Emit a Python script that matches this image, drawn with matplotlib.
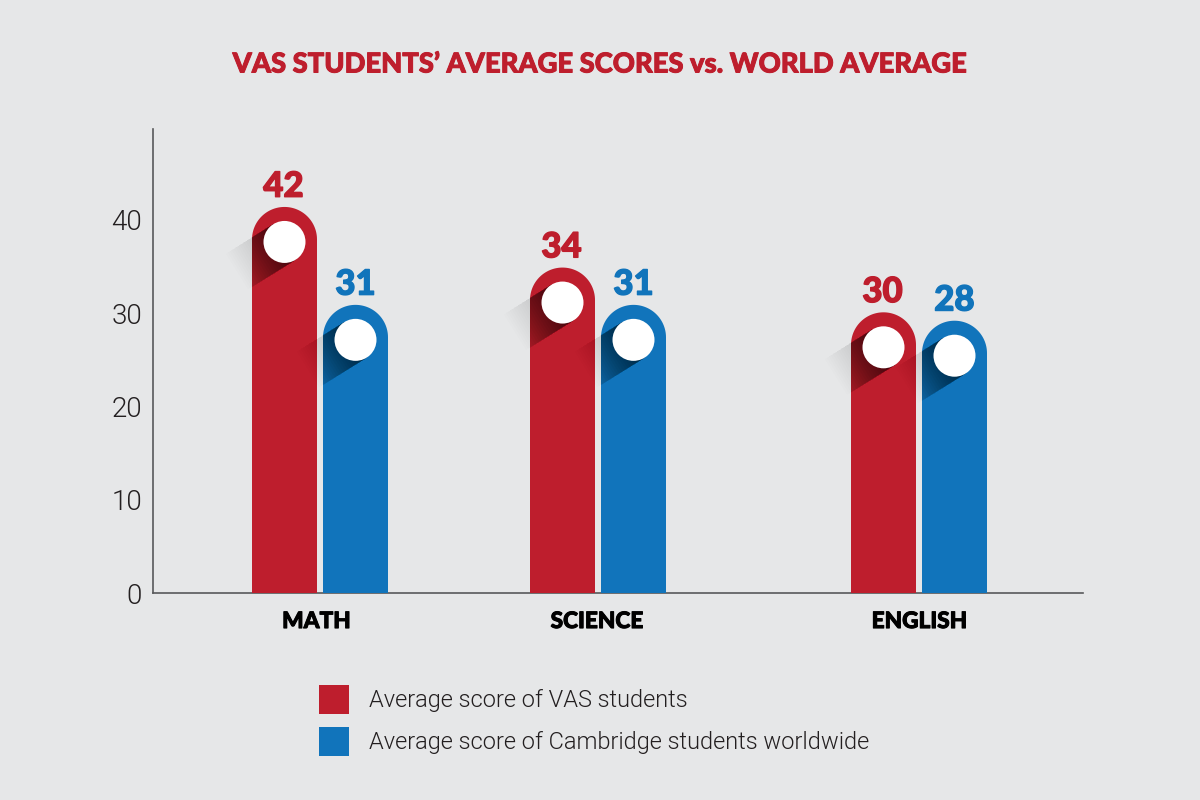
import numpy as np
import matplotlib.pyplot as plt
import matplotlib.patheffects as pe
from matplotlib.font_manager import FontProperties
from matplotlib.patches import Ellipse, Polygon

categories = ['MATH', 'SCIENCE', 'ENGLISH']
vas_labels = [42, 34, 30]
world_labels = [31, 31, 28]
# bar heights as drawn, they differ a bit from the printed labels
vas_heights = [41.4, 34.9, 30.1]
world_heights = [30.9, 30.9, 29.2]
y_ticks = [0, 10, 20, 30, 40]
series_names = ['Average score of VAS students', 'Average score of Cambridge students worldwide']

RED = '#be1e2d'
BLUE = '#1174bb'
BG = '#e6e7e8'
W, H = 1200, 800
group_x = [320, 598, 919]
label_x = [316.5, 597, 919.5]
BAR_W = 65
GAP = 6
PX_PER_UNIT = 9.325
plt.rcParams['font.family'] = ['Lato', 'DejaVu Sans']

fig = plt.figure(figsize=(12, 8), dpi=100, facecolor=BG)
ax = fig.add_axes([153 / W, 1 - 593 / H, 930 / W, 464 / H], facecolor='none')
ax.set_xlim(153, 1083)
ax.set_ylim(0, 464 / PX_PER_UNIT)


def heavy(color, width=0.7):
    return [pe.withStroke(linewidth=width, foreground=color)]


def rounded_bar(cx, height, color):
    r = BAR_W / 2
    ry = r / PX_PER_UNIT
    t = np.linspace(0, np.pi, 60)
    xs = np.r_[cx + r, cx + r * np.cos(t), cx - r]
    ys = np.r_[0, height - ry + ry * np.sin(t), 0]
    return ax.fill(xs, ys, color=color, lw=0, zorder=3)[0]


def long_shadow(cx, cy, r, clip, strength, z, reach):
    # stacked strips so the shadow fades out away from the circle
    dx, dy = -0.85, -0.53 / PX_PER_UNIT
    nx, ny = 0.53 * r, -0.85 * r / PX_PER_UNIT
    n = 24
    for i in range(n):
        length = reach * (i + 1) / n
        pts = [(cx + nx, cy + ny), (cx - nx, cy - ny),
               (cx - nx + dx * length, cy - ny + dy * length),
               (cx + nx + dx * length, cy + ny + dy * length)]
        p = Polygon(pts, closed=True, fc='black', ec='none', alpha=strength / n * 1.6, zorder=z)
        ax.add_patch(p)
        if clip is not None:
            p.set_clip_path(clip)


def draw_bar(cx, height, color):
    cy = height - 35 / PX_PER_UNIT
    # outer shadow goes before the bar, so it lands on the neighbour but not on its own bar
    long_shadow(cx, cy, 21, None, 0.13, 3, 56)
    bar = rounded_bar(cx, height, color)
    long_shadow(cx, cy, 21, bar, 0.5, 4, 60)
    ax.add_patch(Ellipse((cx, cy), 42, 42 / PX_PER_UNIT, fc='white', ec='none', zorder=5))


label_font = dict(ha='center', va='bottom', fontsize=25, fontweight='black', zorder=6)
for i in range(len(categories)):
    red_x = group_x[i] - (BAR_W + GAP) / 2
    blue_x = group_x[i] + (BAR_W + GAP) / 2
    draw_bar(red_x, vas_heights[i], RED)
    draw_bar(blue_x, world_heights[i], BLUE)
    ax.text(red_x - 1, vas_heights[i] + 0.45, str(vas_labels[i]), color=RED,
            path_effects=heavy(RED, 1.0), **label_font)
    ax.text(blue_x, world_heights[i] + 0.45, str(world_labels[i]), color=BLUE,
            path_effects=heavy(BLUE, 1.0), **label_font)

ax.spines['top'].set_visible(False)
ax.spines['right'].set_visible(False)
for s in ['left', 'bottom']:
    ax.spines[s].set_color('#58595b')
    ax.spines[s].set_linewidth(1.2)
ax.set_yticks(y_ticks)
ax.tick_params(axis='y', length=0, pad=8, labelsize=20, labelcolor='#231f20')
for t in ax.get_yticklabels():
    t.set_fontfamily('Roboto')
    t.set_fontweight(300)
ax.set_xticks(label_x)
ax.set_xticklabels(categories, fontsize=16.3, fontweight='black', color='black',
                   path_effects=heavy('black', 0.7))
ax.tick_params(axis='x', length=0, pad=13)

fig.text(600 / W, 1 - 64.5 / H, "VAS STUDENTS’ AVERAGE SCORES vs. WORLD AVERAGE", ha='center', va='center',
         color=RED, fontsize=19.7, fontweight='black', path_effects=heavy(RED, 0.7))

handles = [plt.Rectangle((0, 0), 1, 1, fc=RED), plt.Rectangle((0, 0), 1, 1, fc=BLUE)]
fig.legend(handles, series_names, loc='upper left', bbox_to_anchor=(319 / W, 1 - 684.5 / H), frameon=False,
           prop=FontProperties(family='Roboto', weight=300, size=17), handlelength=1.27, handleheight=1.55,
           handletextpad=0.85, labelspacing=0.53, borderpad=0, borderaxespad=0, labelcolor='#231f20')

fig.savefig('out.png', dpi=100, facecolor=BG)
